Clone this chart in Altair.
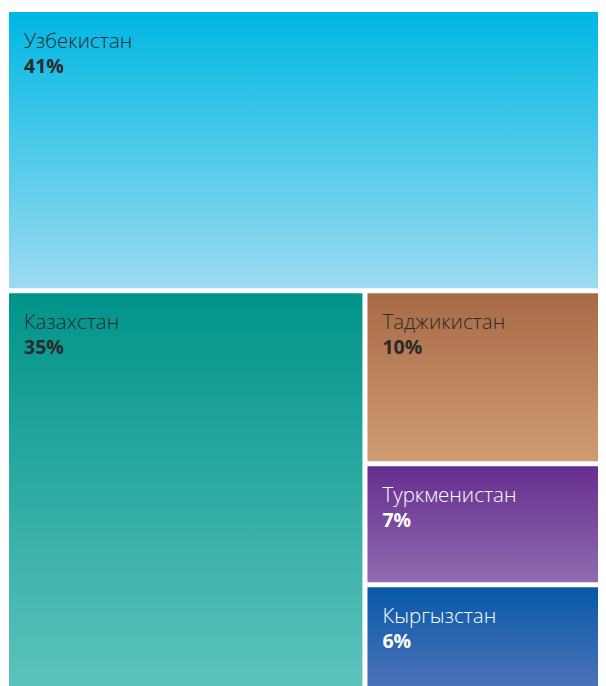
import altair as alt
import pandas as pd

# ---- data ----
countries = ["Узбекистан", "Казахстан", "Таджикистан", "Туркменистан", "Кыргызстан"]
shares = [41, 35, 10, 7, 6]
share_labels = ["41%", "35%", "10%", "7%", "6%"]

# ---- styles ----
top_colors = ["#00B7E4", "#00938A", "#A86A46", "#662D8F", "#0759A8"]
bottom_colors = ["#9CDBF1", "#5CC3BB", "#D09C74", "#8E6CAF", "#4B72B8"]
text_colors = ["#2a2a2a", "#2a2a2a", "#2a2a2a", "#ffffff", "#ffffff"]

W, H, G = 589, 674, 5  # layout extent and gap between tiles

# ---- treemap layout computed from the shares ----
total = sum(shares)
h_top = H * shares[0] / total
rest = total - shares[0]
w_left = W * shares[1] / rest
x0, x1, y0, y1 = [], [], [], []
# first: full-width strip on top
x0.append(0); x1.append(W); y0.append(0); y1.append(h_top)
# second: left column of the remaining area
x0.append(0); x1.append(w_left); y0.append(h_top); y1.append(H)
# others: stacked in the right column
col_total = sum(shares[2:])
cur = h_top
for s in shares[2:]:
    h = (H - h_top) * s / col_total
    x0.append(w_left); x1.append(W); y0.append(cur); y1.append(cur + h)
    cur += h
# inset each tile by half the gap
x0 = [v + G / 2 for v in x0]
y0 = [v + G / 2 for v in y0]
x1 = [v - G / 2 for v in x1]
y1 = [v - G / 2 for v in y1]

df = pd.DataFrame({
    "country": countries,
    "share": shares,
    "label": share_labels,
    "tcolor": text_colors,
    "x0": x0, "x1": x1, "y0": y0, "y1": y1,
})

xs = alt.Scale(domain=[G / 2, W - G / 2], nice=False, zero=False)
ys = alt.Scale(domain=[G / 2, H - G / 2], nice=False, zero=False, reverse=True)

base = alt.Chart(df)
layers = []
for i, c in enumerate(countries):
    grad = alt.Gradient(
        gradient="linear",
        stops=[alt.GradientStop(color=top_colors[i], offset=0),
               alt.GradientStop(color=bottom_colors[i], offset=1)],
        x1=0, x2=0, y1=0, y2=1,
    )
    layers.append(
        base.transform_filter(alt.datum.country == c)
        .mark_rect(fill=grad)
        .encode(
            x=alt.X("x0:Q", scale=xs, axis=None),
            x2="x1:Q",
            y=alt.Y("y0:Q", scale=ys, axis=None),
            y2="y1:Q",
        )
    )

names = base.mark_text(
    align="left", baseline="alphabetic", dx=15, dy=36,
    font="Open Sans", fontWeight=300, fontSize=20.5,
).encode(
    x=alt.X("x0:Q", scale=xs, axis=None),
    y=alt.Y("y0:Q", scale=ys, axis=None),
    text="country:N",
    color=alt.Color("tcolor:N", scale=None),
)

pcts = base.mark_text(
    align="left", baseline="alphabetic", dx=15, dy=61,
    font="Open Sans", fontWeight="bold", fontSize=19.5,
).encode(
    x=alt.X("x0:Q", scale=xs, axis=None),
    y=alt.Y("y0:Q", scale=ys, axis=None),
    text="label:N",
    color=alt.Color("tcolor:N", scale=None),
)

chart = alt.layer(*layers, names, pcts).properties(
    width=W,
    height=H,
    padding={"left": 1, "top": 4, "right": 0, "bottom": 0},
    autosize="none",
    background="white",
).configure_view(stroke=None)

chart.save("out.html", embed_options={"renderer": "svg", "actions": False})
